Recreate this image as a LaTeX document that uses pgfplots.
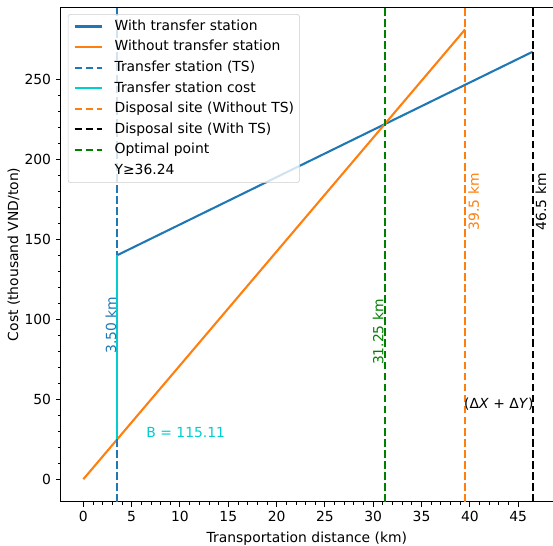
\documentclass[border=0pt]{standalone}
\usepackage{fontspec}
\setmainfont{DejaVu Sans}
\usepackage{pgfplots}
\pgfplotsset{compat=1.18}
\definecolor{tabblue}{HTML}{1F77B4}
\definecolor{taborange}{HTML}{FF7F0E}
\definecolor{mplgreen}{HTML}{008000}
\definecolor{tscyan}{HTML}{00CED1}
\begin{document}
\begin{tikzpicture}
\begin{axis}[
  scale only axis, width=354.4pt, height=356.2pt,
  xmin=-2.325, xmax=48.6, ymin=-14.05, ymax=295.1,
  axis x line*=box, axis y line*=left,
  axis line style={-, line width=0.8pt, black},
  xtick pos=bottom, ytick pos=left,
  tick align=outside,
  major tick length=3.5pt, minor tick length=2pt,
  every major tick/.style={line width=0.8pt, black},
  every minor tick/.style={line width=0.6pt, black},
  minor x tick num=4, minor y tick num=4,
  xtick={0,5,...,45}, ytick={0,50,...,250},
  /pgf/number format/assume math mode=true,
  tick label style={font=\fontsize{10}{12}\selectfont},
  xlabel={Transportation distance (km)},
  ylabel={Cost (thousand VND/ton)},
  label style={font=\fontsize{10}{12}\selectfont},
  xlabel style={at={(axis description cs:0.5,0)}, anchor=north, inner sep=0pt, yshift=-21.3pt},
  ylabel style={at={(axis description cs:0,0.5)}, anchor=center, inner sep=0pt, yshift=33.8pt},
  clip=false,
  legend style={at={(axis description cs:0,1)}, anchor=north west, xshift=5pt, yshift=-5pt,
    draw=black!20, fill=white, fill opacity=0.8, text opacity=1, rounded corners=2pt,
    font=\fontsize{10}{12}\selectfont, inner sep=4pt, row sep=5.2pt, column sep=8pt,
    nodes={inner sep=0pt, text height=7.6pt, text depth=2pt}},
  legend cell align=left,
  legend image code/.code={\draw[#1] (0pt,0pt) -- (20pt,0pt);},
]
\addplot[tabblue, line width=1.5pt] coordinates {(3.5,140.0) (46.5,267.2)};
\addlegendentry{With transfer station}
\addplot[taborange, line width=1.5pt] coordinates {(0,0) (39.5,281.1)};
\addlegendentry{Without transfer station}
\addplot[tabblue, line width=1.5pt, dash pattern=on 5.55pt off 2.4pt] coordinates {(3.5,-14.05) (3.5,295.1)};
\addlegendentry{Transfer station (TS)}
\addplot[tscyan, line width=1.5pt] coordinates {(3.5,24.9) (3.5,140.0)};
\addlegendentry{Transfer station cost}
\addplot[taborange, line width=1.5pt, dash pattern=on 5.55pt off 2.4pt] coordinates {(39.5,-14.05) (39.5,295.1)};
\addlegendentry{Disposal site (Without TS)}
\addplot[black, line width=1.5pt, dash pattern=on 5.55pt off 2.4pt] coordinates {(46.5,-14.05) (46.5,295.1)};
\addlegendentry{Disposal site (With TS)}
\addplot[mplgreen, line width=1.5pt, dash pattern=on 5.55pt off 2.4pt] coordinates {(31.25,-14.05) (31.25,295.1)};
\addlegendentry{Optimal point}
\addlegendimage{draw opacity=0}
\addlegendentry{Y≥36.24}
\node[rotate=90, text=tabblue, font=\fontsize{10}{12}\selectfont] at (axis cs:2.87,96.4) {3.50 km};
\node[rotate=90, text=mplgreen, font=\fontsize{10}{12}\selectfont] at (axis cs:30.5,92) {31.25 km};
\node[rotate=90, text=taborange, font=\fontsize{10}{12}\selectfont] at (axis cs:40.4,173.5) {39.5 km};
\node[rotate=90, text=black, font=\fontsize{10}{12}\selectfont] at (axis cs:47.35,173.5) {46.5 km};
\node[text=tscyan, font=\fontsize{10}{12}\selectfont] at (axis cs:10.6,29.4) {B = 115.11};
\node[font=\fontsize{10}{12}\selectfont] at (axis cs:43.0,46.9) {(Δ\textit{X} + Δ\textit{Y})};
\end{axis}
\pgfresetboundingbox
\useasboundingbox ([xshift=-43.8pt,yshift=-31.8pt]current axis.south west) rectangle ([yshift=5.1pt]current axis.north east);
\end{tikzpicture}
\end{document}
